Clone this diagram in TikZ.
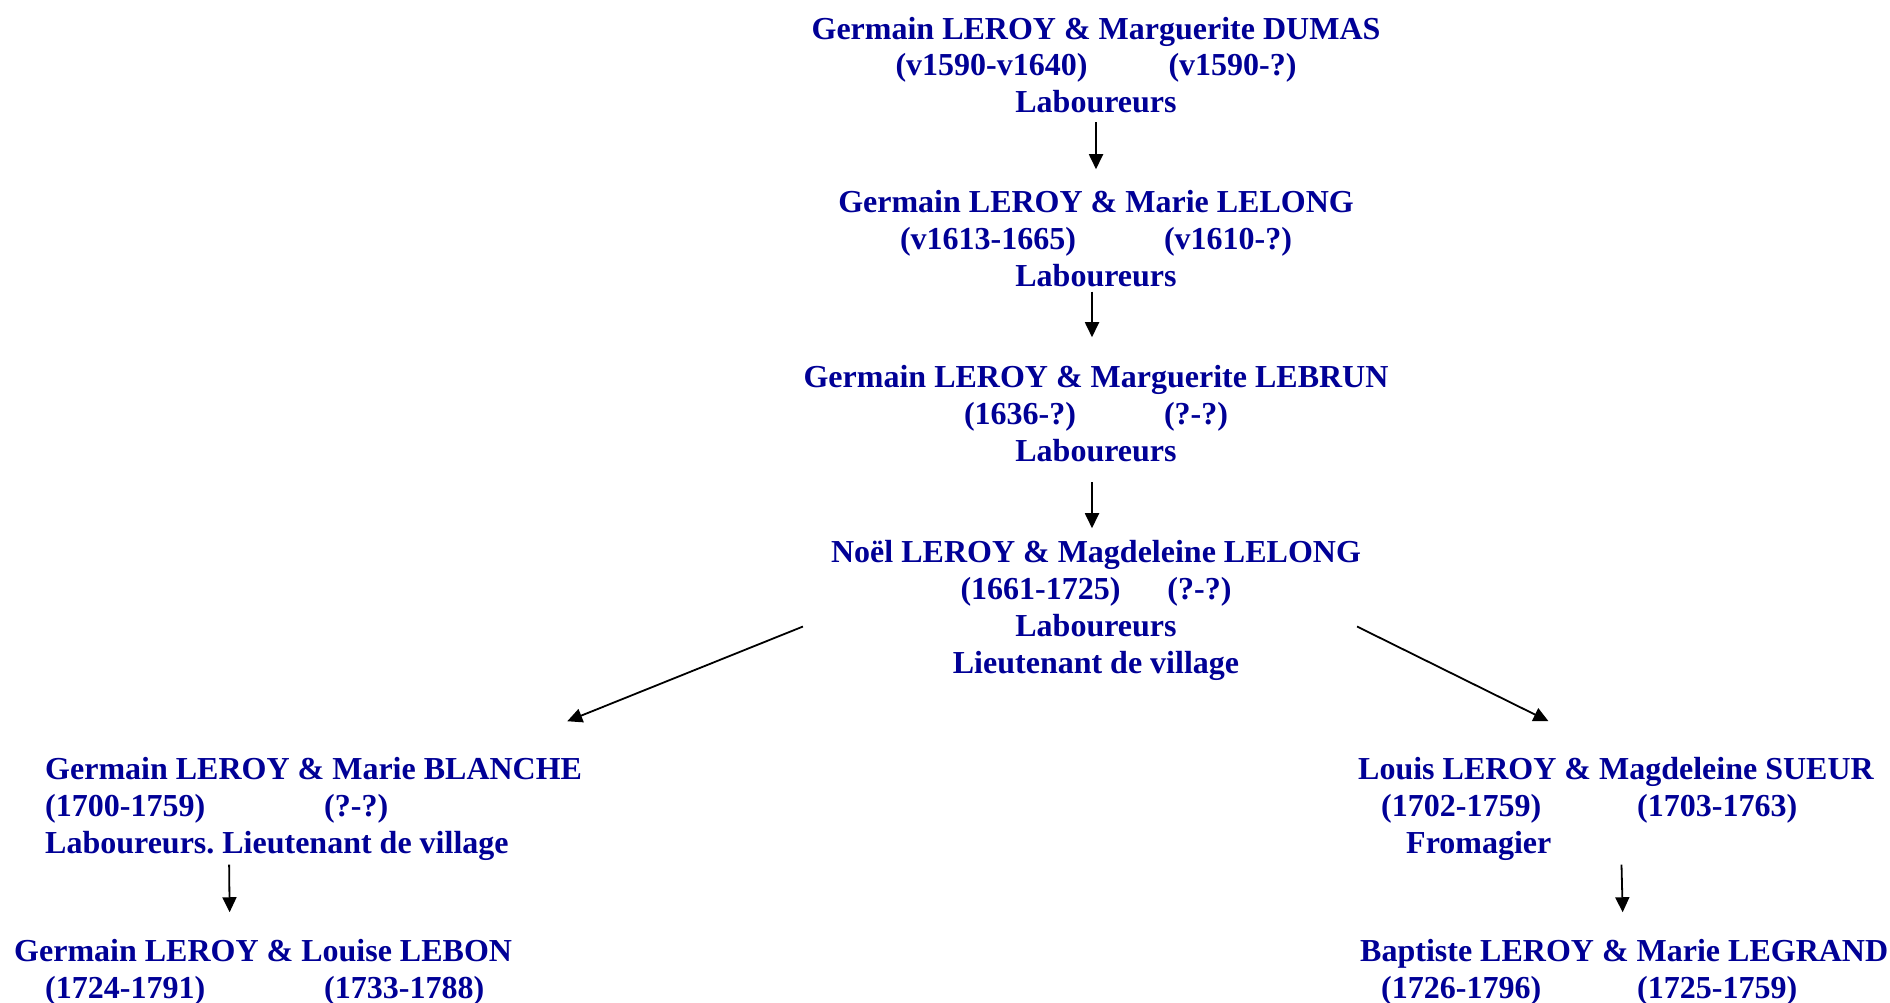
\documentclass[tikz,border=0pt]{standalone}
\usepackage{fontspec}
\setmainfont{Liberation Serif}
\usetikzlibrary{arrows.meta}
\definecolor{famblue}{RGB}{0,0,150}
\frenchspacing
\tikzset{
  couple/.style={inner sep=0pt, text=famblue, font=\fontsize{32}{36.8}\selectfont\bfseries\frenchspacing},
  arr/.style={draw=black, line width=1.8pt, -{Triangle[length=15pt,width=14pt]}}
}
\begin{document}
\begin{tikzpicture}[x=1pt,y=-1pt]
\useasboundingbox[fill=white] (0,0) rectangle (1890,1003);
% central line
\node[couple, anchor=base] (n1) at (1096,39.2) {\begin{tabular}[t]{@{}c@{}}Germain LEROY \& Marguerite DUMAS\\(v1590-v1640)\hspace{81pt}(v1590-?)\\Laboureurs\end{tabular}};
\node[couple, anchor=base] (n2) at (1096,212.7) {\begin{tabular}[t]{@{}c@{}}Germain LEROY \& Marie LELONG\\(v1613-1665)\hspace{88pt}(v1610-?)\\Laboureurs\end{tabular}};
\node[couple, anchor=base] (n3) at (1096,387.7) {\begin{tabular}[t]{@{}c@{}}Germain LEROY \& Marguerite LEBRUN\\(1636-?)\hspace{88pt}(?-?)\\Laboureurs\end{tabular}};
\node[couple, anchor=base] (n4) at (1096,562.7) {\begin{tabular}[t]{@{}c@{}}Noël LEROY \& Magdeleine LELONG\\(1661-1725)\hspace{47pt}(?-?)\\Laboureurs\\Lieutenant de village\end{tabular}};
% left branch
\node[couple, anchor=base west] (n5) at (45,779.7) {\begin{tabular}[t]{@{}l@{}}Germain LEROY \& Marie BLANCHE\\\makebox[279pt][l]{(1700-1759)}(?-?)\\Laboureurs. Lieutenant de village\end{tabular}};
\node[couple, anchor=base west] (n7) at (14,961.7) {\begin{tabular}[t]{@{}l@{}}Germain LEROY \& Louise LEBON\\\hspace*{31pt}\makebox[279pt][l]{(1724-1791)}(1733-1788)\end{tabular}};
% right branch
\node[couple, anchor=base west] (n6) at (1358,779.7) {\begin{tabular}[t]{@{}l@{}}Louis LEROY \& Magdeleine SUEUR\\\hspace*{23pt}\makebox[256pt][l]{(1702-1759)}(1703-1763)\\\hspace*{48pt}Fromagier\end{tabular}};
\node[couple, anchor=base west] (n8) at (1360,961.7) {\begin{tabular}[t]{@{}l@{}}Baptiste LEROY \& Marie LEGRAND\\\hspace*{21pt}\makebox[256pt][l]{(1726-1796)}(1725-1759)\end{tabular}};
% connectors
\draw[arr] ([yshift=2pt]n1.south) -- ([yshift=17.5pt]n2.north);
\draw[arr] ([xshift=-4pt,yshift=6pt]n2.south) -- ([xshift=-4pt,yshift=24.5pt]n3.north);
\draw[arr] ([xshift=-4pt,yshift=-9.5pt]n3.south) -- ([xshift=-4pt,yshift=8.5pt]n4.north);
\draw[arr] ([xshift=-28pt,yshift=-16pt]n4.west) -- ([xshift=-15pt,yshift=32.5pt]n5.north east);
\draw[arr] ([xshift=-4pt,yshift=-16pt]n4.east) -- ([xshift=-67.5pt,yshift=32.5pt]n6.north);
\draw[arr] ([xshift=-84.5pt,yshift=0pt]n5.south) -- ([xshift=-33.5pt,yshift=23.5pt]n7.north);
\draw[arr] ([xshift=5.5pt,yshift=0pt]n6.south) -- ([xshift=-1.5pt,yshift=23.5pt]n8.north);
\end{tikzpicture}
\end{document}
